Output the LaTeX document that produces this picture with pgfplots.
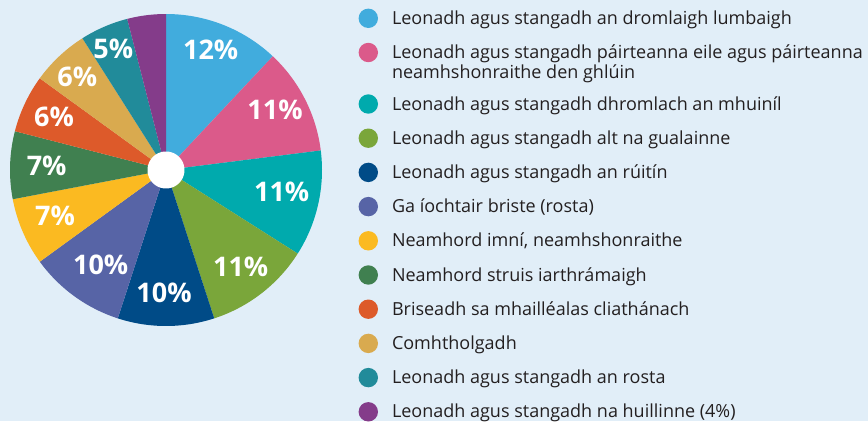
\documentclass[border=0pt]{standalone}
\usepackage{fontspec}
\setmainfont{Open Sans}
\usepackage{pgfplots}
\pgfplotsset{compat=1.18}
\usepackage{pgfplotstable}

\definecolor{bg}{HTML}{E1EEF8}
\definecolor{txt}{HTML}{231F20}
\definecolor{cA}{HTML}{41ACDD}
\definecolor{cB}{HTML}{DB5A8A}
\definecolor{cC}{HTML}{00AAAD}
\definecolor{cD}{HTML}{7AA63A}
\definecolor{cE}{HTML}{004B87}
\definecolor{cF}{HTML}{5764A6}
\definecolor{cG}{HTML}{FBBA21}
\definecolor{cH}{HTML}{408050}
\definecolor{cI}{HTML}{DD5A2A}
\definecolor{cJ}{HTML}{D9AA4F}
\definecolor{cK}{HTML}{218B9A}
\definecolor{cL}{HTML}{843C8A}

% value = share in percent; ly = vertical offset of the legend dot
\pgfplotstableread{
value color ly
12 cA 6
11 cB 25.5
11 cC 6
11 cD 6
10 cE 6
10 cF 6
7 cG 6
7 cH 6
6 cI 6
6 cJ 6
5 cK 6
4 cL 6
}\piedata

\begin{document}
\begin{tikzpicture}
\begin{axis}[
  scale only axis, width=868pt, height=421pt,
  xmin=0, xmax=868, ymin=0, ymax=421,
  hide axis, clip=false,
  legend cell align=left,
  legend style={at={(axis cs:358.6,412.4)}, anchor=north west, draw=none, fill=none,
    inner sep=0pt, outer sep=0pt, font=\fontsize{18}{19.5}\selectfont, text=txt,
    row sep=14.8pt, column sep=14pt,
    cells={anchor=base west},
    nodes={inner sep=0pt, align=left}},
  legend entries={
    {Leonadh agus stangadh an dromlaigh lumbaigh},
    {Leonadh agus stangadh páirteanna eile agus páirteanna\\neamhshonraithe den ghlúin},
    {Leonadh agus stangadh dhromlach an mhuiníl},
    {Leonadh agus stangadh alt na gualainne},
    {Leonadh agus stangadh an rúitín},
    {Ga íochtair briste (rosta)},
    {Neamhord imní, neamhshonraithe},
    {Neamhord struis iarthrámaigh},
    {Briseadh sa mhailléalas cliathánach},
    {Comhtholgadh},
    {Leonadh agus stangadh an rosta},
    {Leonadh agus stangadh na huillinne (4\%)}},
]
\fill[bg] (axis cs:0,0) rectangle (axis cs:868,421);
\def\cum{0}
\pgfplotsforeachungrouped \i in {0,...,11} {
  \pgfplotstablegetelem{\i}{value}\of\piedata \let\v\pgfplotsretval
  \pgfplotstablegetelem{\i}{color}\of\piedata \let\c\pgfplotsretval
  \pgfplotstablegetelem{\i}{ly}\of\piedata \let\ly\pgfplotsretval
  \pgfmathsetmacro\cumend{\cum+\v}
  \edef\doplot{\noexpand\addplot[fill=\c, draw=none, domain=\cum:\cumend, samples=40, variable=\noexpand\t,
     legend image code/.code={\noexpand\fill (0pt,\ly pt) circle (9.7pt);}]
     ({166+156*sin(3.6*\noexpand\t)},{251+156*cos(3.6*\noexpand\t)}) -- (axis cs:166,251) -- cycle;}
  \doplot
  \global\let\cum\cumend
}
\addplot[fill=white, draw=none, domain=0:100, samples=80, forget plot] ({166+18.5*sin(3.6*x)},{251+18.5*cos(3.6*x)});
\tikzset{pl/.style={text=white, font=\fontsize{27}{27}\selectfont\bfseries, inner sep=0pt}}
\node[pl] at (axis cs:210.7,371) {12\%};
\node[pl] at (axis cs:275,311) {11\%};
\node[pl] at (axis cs:281.7,229.3) {11\%};
\node[pl] at (axis cs:240.7,154.3) {11\%};
\node[pl] at (axis cs:164,128.3) {10\%};
\node[pl] at (axis cs:100.7,156) {10\%};
\node[pl] at (axis cs:55,205) {7\%};
\node[pl] at (axis cs:46.7,255.3) {7\%};
\node[pl] at (axis cs:54,303.7) {6\%};
\node[pl] at (axis cs:77.3,344.3) {6\%};
\node[pl] at (axis cs:113.3,371.7) {5\%};
\end{axis}
\end{tikzpicture}
\end{document}
